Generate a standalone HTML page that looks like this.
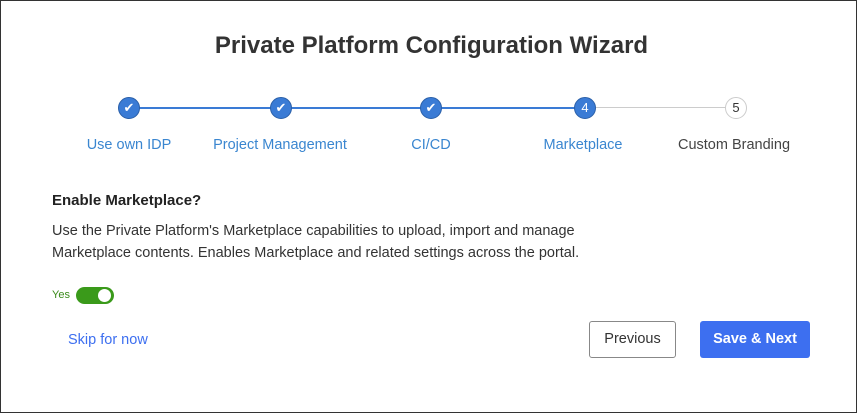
<!DOCTYPE html>
<html><head><style>
body{margin:0;width:857px;height:413px;background:#fff;font-family:"Liberation Sans",sans-serif;position:relative;overflow:hidden}
.frame{position:absolute;left:0;top:0;width:855px;height:411px;border:1px solid #333}
.a{position:absolute;white-space:nowrap}
.c{position:absolute;width:20px;height:20px;border-radius:50%;background:#3a7bd5;border:1px solid #2a5fa8;color:#fff;font-size:13px;text-align:center;line-height:20px;top:97px}
.l{position:absolute;top:137px;font-size:14.5px;color:#3a86d0;transform:translateX(-50%)}
</style></head><body>
<div class="frame"></div>
<div class="a" style="left:0;width:863px;text-align:center;top:32px;font-size:24px;font-weight:bold;color:#333">Private Platform Configuration Wizard</div>
<div class="a" style="left:129px;top:107px;width:456px;height:2px;background:#3a7bd5"></div>
<div class="a" style="left:585px;top:107px;width:151px;height:1px;background:#ccc"></div>
<div class="c" style="left:118px">✔</div>
<div class="c" style="left:270px">✔</div>
<div class="c" style="left:420px">✔</div>
<div class="c" style="left:574px">4</div>
<div class="c" style="left:725px;background:#fff;border-color:#ccc;color:#333">5</div>
<div class="l" style="left:129px">Use own IDP</div>
<div class="l" style="left:280px">Project Management</div>
<div class="l" style="left:431px">CI/CD</div>
<div class="l" style="left:583px">Marketplace</div>
<div class="l" style="left:734px;color:#444">Custom Branding</div>
<div class="a" style="left:52px;top:192px;font-size:15px;font-weight:bold;color:#222">Enable Marketplace?</div>
<div class="a" style="left:52px;top:220px;font-size:14.5px;color:#333;line-height:22px">Use the Private Platform's Marketplace capabilities to upload, import and manage<br>Marketplace contents. Enables Marketplace and related settings across the portal.</div>
<div class="a" style="left:52px;top:289px;font-size:11px;color:#3a8a1a">Yes</div>
<div class="a" style="left:76px;top:287px;width:38px;height:17px;border-radius:9px;background:#3a9a1a"></div>
<div class="a" style="left:98px;top:289px;width:13px;height:13px;border-radius:50%;background:#fff"></div>
<div class="a" style="left:68px;top:332px;font-size:14.5px;color:#3d6ff0">Skip for now</div>
<div class="a" style="left:589px;top:321px;width:85px;height:35px;border:1px solid #888;border-radius:3px;font-size:14.5px;color:#333;text-align:center;line-height:35px">Previous</div>
<div class="a" style="left:700px;top:321px;width:110px;height:37px;background:#3d6ff0;border-radius:3px;font-size:14.5px;font-weight:bold;color:#fff;text-align:center;line-height:37px">Save &amp; Next</div>
</body></html>
